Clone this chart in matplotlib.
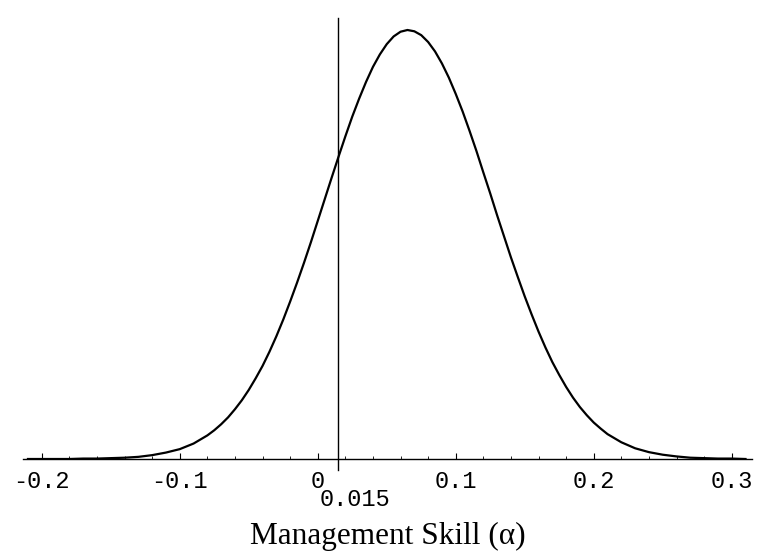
import matplotlib
matplotlib.use("Agg")
import matplotlib.pyplot as plt
from matplotlib.ticker import MultipleLocator

# density of management skill (relative height, peak ~ 1)
# tails every 0.01, the body every 0.005
alpha = [-0.21, -0.20, -0.19, -0.18, -0.17, -0.16, -0.15, -0.14, -0.13, -0.12,
         -0.11, -0.10, -0.09, -0.08, -0.075, -0.07, -0.065, -0.06, -0.055, -0.05,
         -0.045, -0.04, -0.035, -0.03, -0.025, -0.02, -0.015, -0.01, -0.005, 0.00,
         0.005, 0.01, 0.015, 0.02, 0.025, 0.03, 0.035, 0.04, 0.045, 0.05,
         0.055, 0.06, 0.065, 0.07, 0.075, 0.08, 0.085, 0.09, 0.095, 0.10,
         0.105, 0.11, 0.115, 0.12, 0.125, 0.13, 0.135, 0.14, 0.145, 0.15,
         0.155, 0.16, 0.165, 0.17, 0.175, 0.18, 0.185, 0.19, 0.195, 0.20,
         0.205, 0.21, 0.22, 0.23, 0.24, 0.25, 0.26, 0.27, 0.28, 0.29,
         0.30, 0.31]
density = [0.000, 0.000, 0.000, 0.000, 0.001, 0.001, 0.002, 0.003, 0.005, 0.009,
           0.015, 0.023, 0.036, 0.055, 0.067, 0.081, 0.097, 0.116, 0.137, 0.161,
           0.188, 0.217, 0.250, 0.286, 0.325, 0.367, 0.411, 0.457, 0.505, 0.555,
           0.605, 0.655, 0.704, 0.752, 0.798, 0.840, 0.879, 0.914, 0.943, 0.967,
           0.985, 0.996, 1.000, 0.997, 0.988, 0.972, 0.950, 0.922, 0.889, 0.851,
           0.810, 0.765, 0.718, 0.668, 0.619, 0.568, 0.519, 0.470, 0.424, 0.379,
           0.337, 0.297, 0.260, 0.226, 0.196, 0.168, 0.143, 0.121, 0.102, 0.085,
           0.071, 0.058, 0.039, 0.025, 0.016, 0.010, 0.006, 0.003, 0.002, 0.001,
           0.001, 0.000]

cutoff = 0.015
tick_vals = [-0.2, -0.1, 0.0, 0.1, 0.2, 0.3]
tick_labels = ["-0.2", "-0.1", "0", "0.1", "0.2", "0.3"]

fig = plt.figure(figsize=(7.59, 5.52), dpi=100)
ax = fig.add_axes([23 / 759, 93 / 552, 729 / 759, 449 / 552])

ax.plot(alpha, density, color="black", lw=1.6, solid_joinstyle="round")
ax.plot([cutoff, cutoff], [-11 / 429, 441 / 429], color="black", lw=1.0, clip_on=False)

ax.set_xlim(-0.2136, 0.3147)
ax.set_ylim(0, 449 / 429)

for s in ["top", "left", "right"]:
    ax.spines[s].set_visible(False)
ax.spines["bottom"].set_linewidth(1.0)
ax.set_yticks([])

ax.set_xticks(tick_vals)
ax.set_xticklabels(tick_labels, family="Liberation Mono", fontsize=17)
ax.xaxis.set_minor_locator(MultipleLocator(0.02))
ax.tick_params(axis="x", which="major", direction="in", length=4, width=0.8, pad=8)
ax.tick_params(axis="x", which="minor", direction="in", length=2.5, width=0.6)

ax.annotate("0.015", xy=(cutoff, 0), xycoords="data", xytext=(12, -29.5),
            textcoords="offset points", ha="center", va="center",
            family="Liberation Mono", fontsize=17)

fig.text(388 / 759, 1 - 536 / 552, "Management Skill (\u03b1)", ha="center", va="center",
         family="Liberation Serif", fontsize=22.5)

fig.savefig("out.png", dpi=100)
